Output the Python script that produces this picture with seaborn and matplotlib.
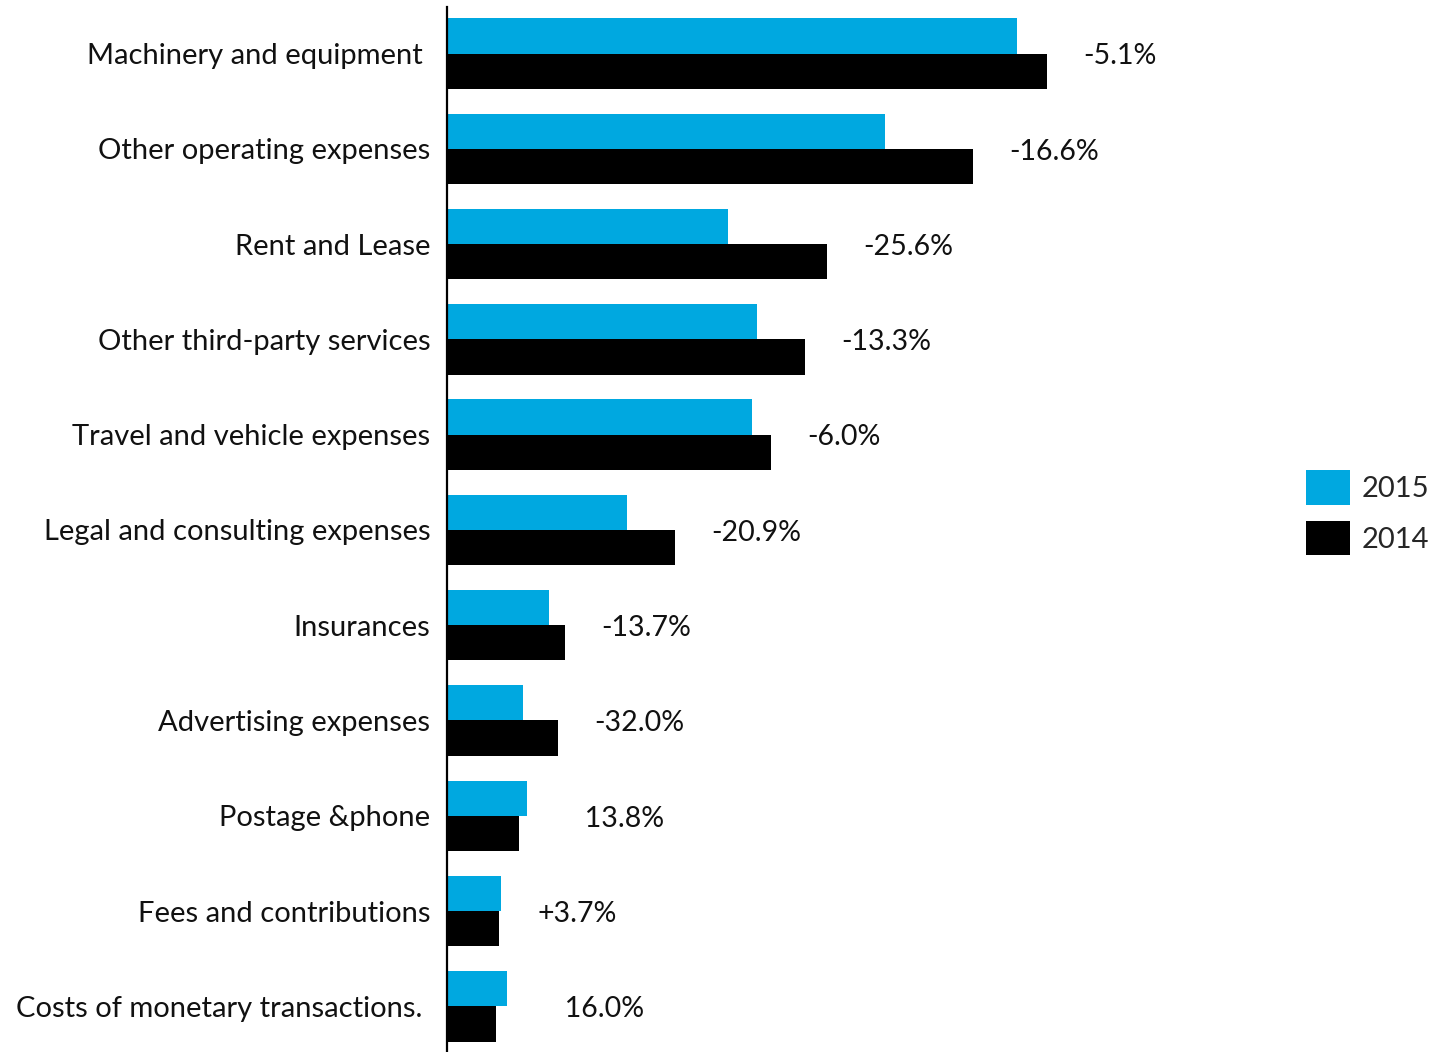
import matplotlib
matplotlib.use("Agg")
import matplotlib.pyplot as plt
import matplotlib.patches as mpatches
import seaborn as sns
import pandas as pd

categories = [
    "Machinery and equipment ",
    "Other operating expenses",
    "Rent and Lease",
    "Other third-party services",
    "Travel and vehicle expenses",
    "Legal and consulting expenses",
    "Insurances",
    "Advertising expenses",
    "Postage &phone",
    "Fees and contributions",
    "Costs of monetary transactions. ",
]
values_2015 = [570, 438, 281, 310, 305, 180, 102, 76, 80, 54, 60]
values_2014 = [600, 526, 380, 358, 324, 228, 118, 111, 72, 52, 49]
change_labels = ["-5.1%", "-16.6%", "-25.6%", "-13.3%", "-6.0%", "-20.9%",
                 "-13.7%", "-32.0%", "   13.8%", "+3.7%", "   16.0%"]
years = ["2015", "2014"]
colors = {"2015": "#00A8E0", "2014": "#000000"}

df = pd.DataFrame({
    "category": categories * 2,
    "value": values_2015 + values_2014,
    "year": ["2015"] * len(categories) + ["2014"] * len(categories),
})

sns.set_theme(style="white")
plt.rcParams["font.family"] = ["Lato", "DejaVu Sans"]
FS = 21

W, H = 1429, 1052
fig = plt.figure(figsize=(W / 100, H / 100), dpi=100)
ax = fig.add_axes([447 / W, 0, 1 - 447 / W, 1045 / H])

sns.barplot(data=df, y="category", x="value", hue="year", hue_order=years,
            order=categories, palette=colors, orient="h", width=0.74,
            saturation=1, linewidth=0, ax=ax, legend=False)

ax.set_xlim(0, W - 447)
ax.set_ylim(10.48, -0.49)
ax.set_xlabel("")
ax.set_ylabel("")
ax.set_xticks([])
ax.tick_params(axis="y", length=0, pad=12, labelsize=FS, labelcolor="#111111")
for side in ["top", "right", "bottom"]:
    ax.spines[side].set_visible(False)
ax.spines["left"].set_color("black")
ax.spines["left"].set_linewidth(1.6)

for i, (a, b, lab) in enumerate(zip(values_2015, values_2014, change_labels)):
    ax.annotate(lab, xy=(max(a, b), i), xytext=(26, -2), textcoords="offset points",
                va="center", ha="left", fontsize=20.5, color="#111111")

handles = [mpatches.Patch(facecolor=colors[y], edgecolor="none", label=y) for y in years]
fig.legend(handles=handles, loc="upper left", bbox_to_anchor=(1306 / W, 1 - 470 / H),
           frameon=False, fontsize=FS, handlelength=1.5, handleheight=1.45,
           handletextpad=0.41, labelspacing=0.55, borderpad=0, borderaxespad=0)

fig.savefig("out.png", dpi=100, facecolor="white")
